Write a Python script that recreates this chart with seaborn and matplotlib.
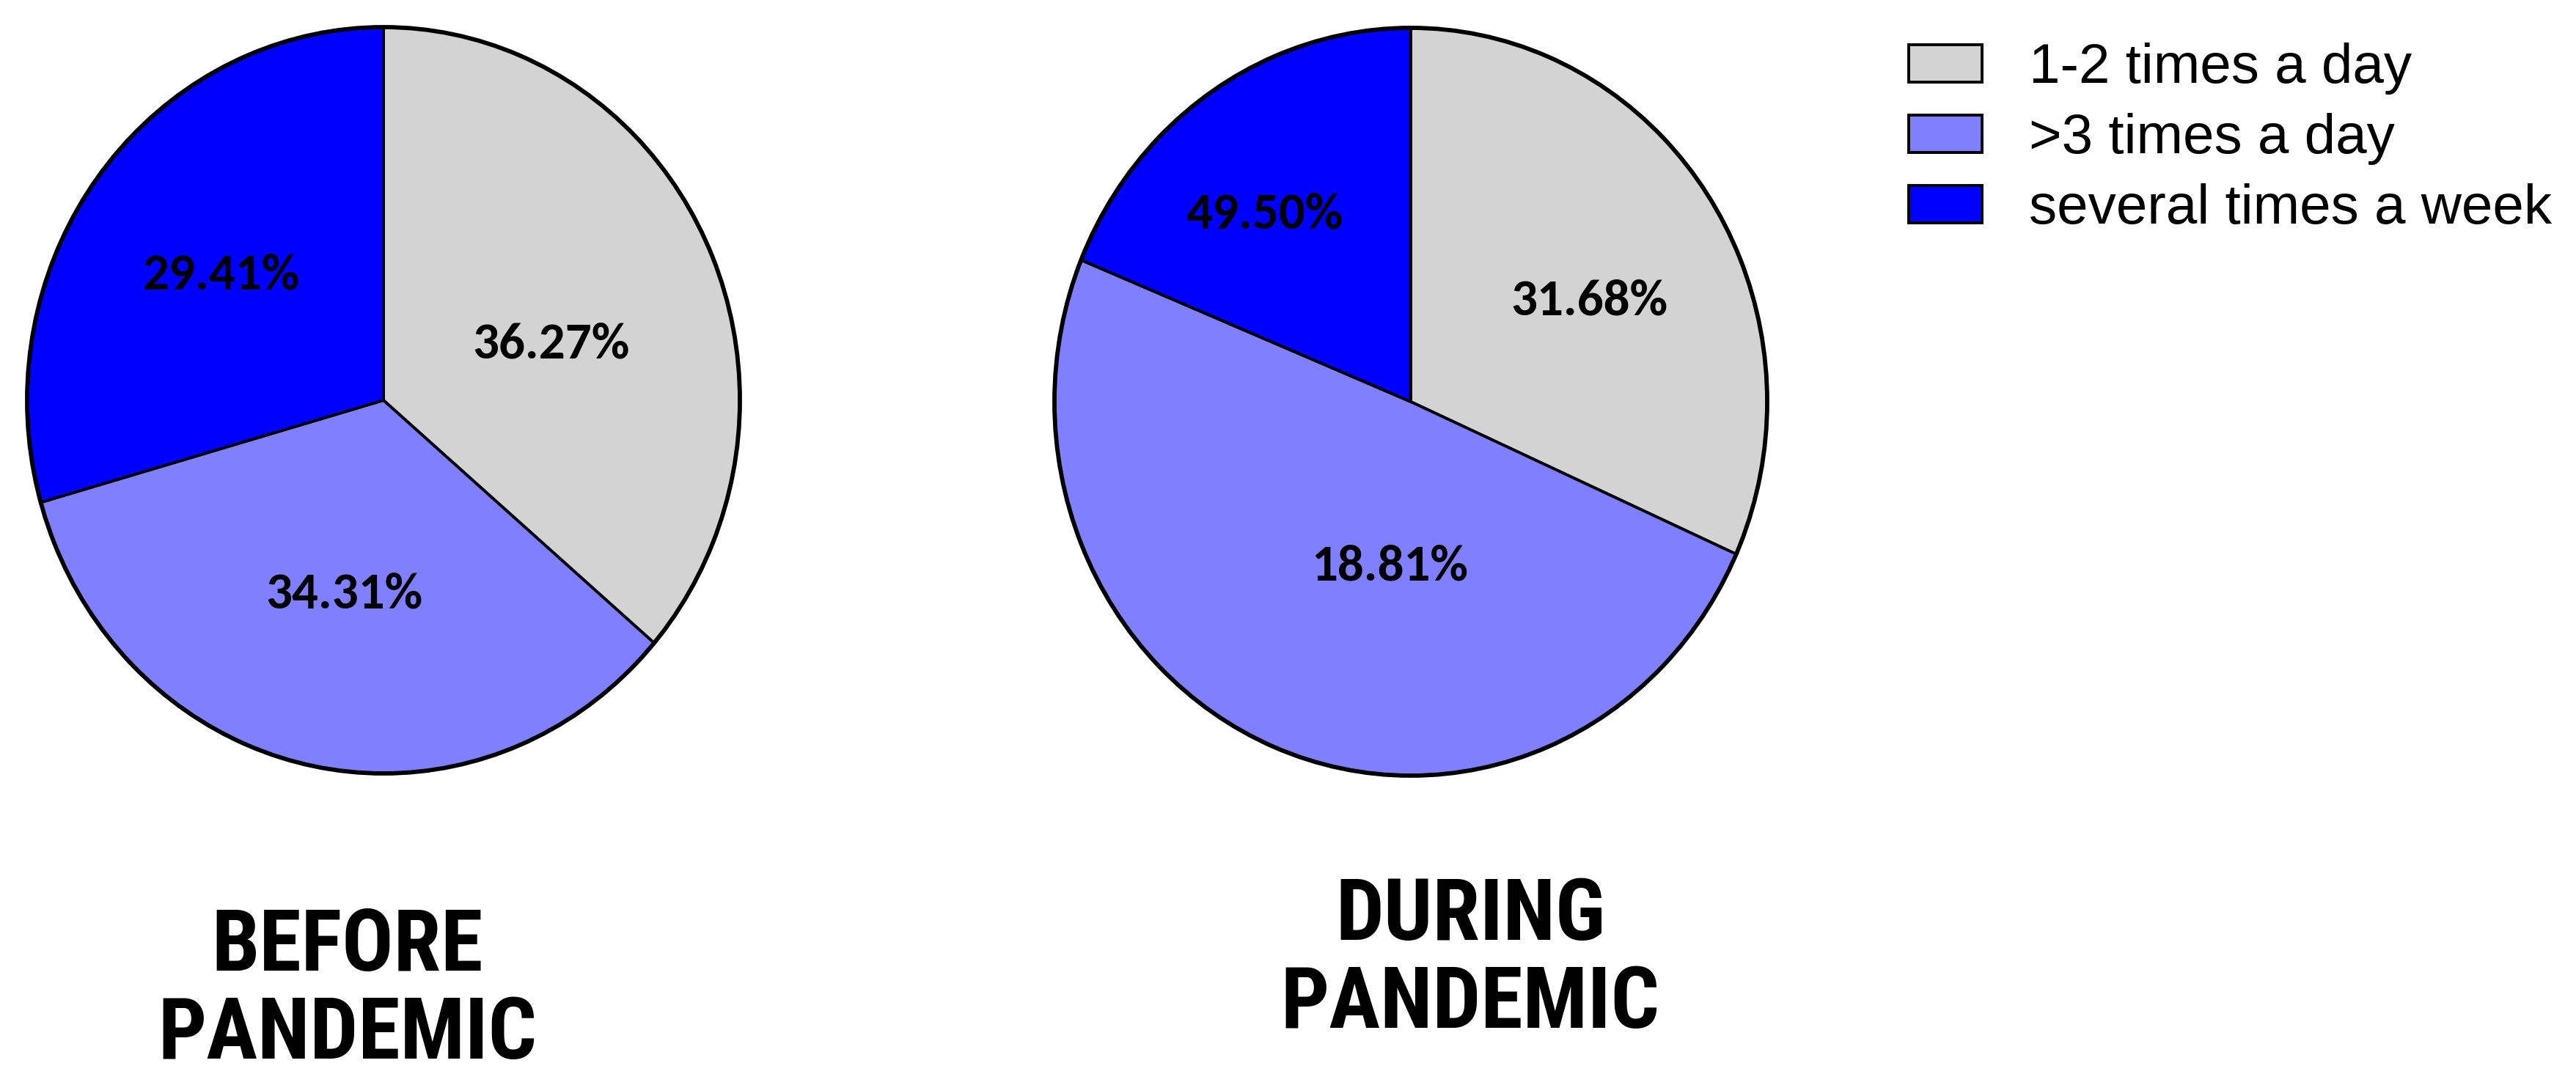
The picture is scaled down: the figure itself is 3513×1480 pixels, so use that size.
import numpy as np
import pandas as pd
import matplotlib
matplotlib.use("Agg")
import matplotlib.pyplot as plt
import seaborn as sns

# frequency categories
categories = ['1-2 times a day', '>3 times a day', 'several times a week']
colors = ['#D3D3D3', '#8080FF', '#0000FF']

# percentages (slice sizes)
before = [36.27, 34.31, 29.41]
during = [31.68, 49.50, 18.81]

# labels as printed on the slices (the two blue ones are swapped in the original figure)
before_labels = ['36.27%', '34.31%', '29.41%']
during_labels = ['31.68%', '18.81%', '49.50%']

titles = ['BEFORE\nPANDEMIC', 'DURING\nPANDEMIC']

sns.set_theme(style='white')
plt.rcParams['font.family'] = ['Liberation Sans', 'DejaVu Sans']
plt.rcParams['text.color'] = 'black'

W, H = 3513, 1480
fig = plt.figure(figsize=(W / 100, H / 100), dpi=100)

def px_axes(cx, cy, hw, hh):
    return fig.add_axes([(cx - hw) / W, (H - cy - hh) / H, 2 * hw / W, 2 * hh / H])

label_font = dict(family=['Carlito', 'Lato', 'DejaVu Sans'], weight='bold',
                  size=51, color='black', ha='center', va='center')

# where the percentage texts sit inside each pie (axes units, radius = 1)
label_xy = [
    [(0.47, 0.15), (-0.11, -0.52), (-0.455, 0.335)],
    [(0.50, 0.27), (-0.06, -0.44), (-0.41, 0.50)],
]

ax1 = px_axes(523, 546, 486, 509)
ax2 = px_axes(1924, 548, 486, 510)

wedges = None
for ax, vals, labs, xy in [(ax1, before, before_labels, label_xy[0]),
                           (ax2, during, during_labels, label_xy[1])]:
    w, t = ax.pie(vals, labels=labs, colors=colors, startangle=90, counterclock=False,
                  labeldistance=0.55, textprops=label_font,
                  wedgeprops=dict(edgecolor='black', linewidth=2.8))
    # heavier outer rim, like the original
    rim, _ = ax.pie([sum(vals)], colors=['none'],
                    wedgeprops=dict(edgecolor='black', linewidth=4.2, fill=False))
    for p in list(w) + list(rim):
        p.set_clip_on(False)
    for txt, pos in zip(t, xy):
        txt.set_position(pos)
    ax.set_aspect('auto')
    ax.set_xlim(-1, 1)
    ax.set_ylim(-1, 1)
    ax.axis('off')
    if wedges is None:
        wedges = w

title_font = dict(family=['Roboto Condensed', 'Archivo Narrow', 'DejaVu Sans'], weight='bold',
                  size=84, ha='center', va='center', linespacing=1.1, color='black')
fig.text(474 / W, 1 - 1352 / H, titles[0], **title_font)
fig.text(2005 / W, 1 - 1310 / H, titles[1], **title_font)

fig.legend(wedges, categories, loc='upper left', bbox_to_anchor=(2603 / W, 1 - 58 / H),
           frameon=False, fontsize=55, handlelength=1.31, handleheight=0.65,
           handletextpad=0.84, labelspacing=0.33, borderpad=0, borderaxespad=0)

fig.savefig('out.png', dpi=100)
